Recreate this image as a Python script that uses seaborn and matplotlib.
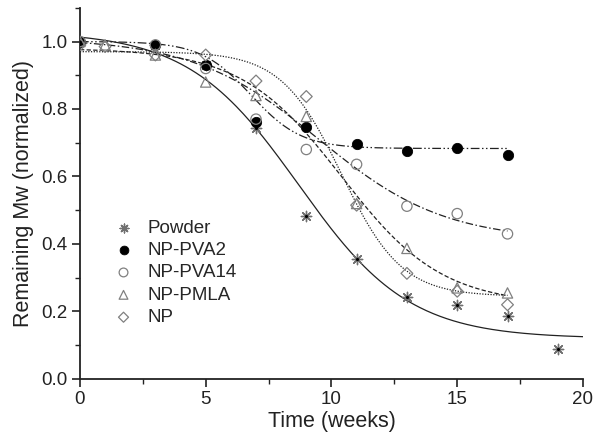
import numpy as np
import pandas as pd
import matplotlib
matplotlib.use("Agg")
import matplotlib.pyplot as plt
import seaborn as sns

# measured points (weeks, normalized Mw)
t_powder = [0, 3, 5, 7, 9, 11, 13, 15, 17, 19]
mw_powder = [1.00, 0.99, 0.93, 0.745, 0.483, 0.356, 0.243, 0.218, 0.188, 0.088]

t_np = [0, 3, 5, 7, 9, 11, 13, 15, 17]
mw_pva2 = [1.00, 0.99, 0.93, 0.76, 0.746, 0.695, 0.675, 0.683, 0.665]
mw_pva14 = [1.00, 0.99, 0.92, 0.77, 0.68, 0.636, 0.512, 0.49, 0.43]

t_np1 = [0, 1, 3, 5, 7, 9, 11, 13, 15, 17]
mw_pmla = [1.00, 0.99, 0.96, 0.88, 0.84, 0.778, 0.52, 0.387, 0.27, 0.255]
mw_bare = [0.99, 0.985, 0.96, 0.96, 0.883, 0.837, 0.515, 0.313, 0.26, 0.22]

# Boltzmann fit parameters: A1, A2, x0, dx, x_end
fit_powder = (1.03, 0.12, 8.7, 2.2, 20)
fit_pva2 = (1.00, 0.683, 6.8, 1.0, 17)
fit_pva14 = (1.01, 0.41, 9.5, 2.5, 17)
fit_pmla = (0.98, 0.22, 10.4, 2.0, 17)
fit_bare = (0.97, 0.245, 10.4, 1.2, 17)


def boltzmann(p):
    a1, a2, x0, dx, xe = p
    x = np.linspace(0, xe, 300)
    return x, a2 + (a1 - a2) / (1 + np.exp((x - x0) / dx))


sns.set_theme(style="ticks")
plt.rcParams["font.family"] = ["Liberation Sans", "DejaVu Sans"]

fig = plt.figure(figsize=(6.01, 4.43), dpi=100)
ax = fig.add_axes([0.133, 0.1445, 0.837, 0.838])

ink = "#222222"
gray = "#808080"
curves = [
    (fit_powder, "-"),
    (fit_pva2, (0, (7, 2, 1.2, 2, 1.2, 2))),
    (fit_pva14, (0, (6, 2, 1.2, 2))),
    (fit_pmla, (0, (3.5, 1.8))),
    (fit_bare, (0, (1, 1.2))),
]
for p, ls in curves:
    x, y = boltzmann(p)
    sns.lineplot(x=x, y=y, ax=ax, color=ink, linewidth=0.9,
                 linestyle=ls, estimator=None, sort=False)

sns.scatterplot(x=t_powder, y=mw_powder, ax=ax, marker=(8, 2, 0), s=55,
                color="#707070", linewidth=1.0, label="Powder", zorder=3)
sns.scatterplot(x=t_powder, y=mw_powder, ax=ax, marker="o", s=5,
                color="black", linewidth=0, zorder=4)
sns.scatterplot(x=t_np, y=mw_pva2, ax=ax, marker="o", s=55,
                color="black", edgecolor="black", label="NP-PVA2", zorder=3)
sns.scatterplot(x=t_np, y=mw_pva14, ax=ax, marker="o", s=55,
                facecolors="none", edgecolor=gray, linewidth=0.9,
                label="NP-PVA14", zorder=3)
sns.scatterplot(x=t_np1, y=mw_pmla, ax=ax, marker="^", s=55,
                facecolors="none", edgecolor=gray, linewidth=0.9,
                label="NP-PMLA", zorder=3)
sns.scatterplot(x=t_np1, y=mw_bare, ax=ax, marker="D", s=36,
                facecolors="none", edgecolor=gray, linewidth=0.9,
                label="NP", zorder=3)

ax.set_xlim(0, 20)
ax.set_ylim(0, 1.1)
ax.set_xticks([0, 5, 10, 15, 20])
ax.set_xticks(np.arange(0, 20.1, 2.5), minor=True)
ax.set_yticks([0.0, 0.2, 0.4, 0.6, 0.8, 1.0])
ax.set_yticks(np.arange(0, 1.11, 0.1), minor=True)
ax.set_yticklabels(["0.0", "0.2", "0.4", "0.6", "0.8", "1.0"])
ax.tick_params(which="major", direction="out", length=6, width=1.2,
               labelsize=13.5, color=ink, labelcolor=ink, pad=3)
ax.tick_params(which="minor", direction="out", length=3.5, width=1.0,
               color=ink)
sns.despine(ax=ax)
for s in ["left", "bottom"]:
    ax.spines[s].set_linewidth(1.3)
    ax.spines[s].set_color(ink)

ax.set_xlabel("Time (weeks)", fontsize=15.5, color=ink, labelpad=2)
ax.set_ylabel("Remaining Mw (normalized)", fontsize=15.5, color=ink,
              labelpad=5)

ax.legend(loc="center left", bbox_to_anchor=(0.068, 0.286), frameon=False,
          fontsize=13.5, handlelength=1.0, handletextpad=0.8,
          labelspacing=0.28, borderpad=0, borderaxespad=0, markerscale=0.85)

fig.savefig("out.png", dpi=100)
